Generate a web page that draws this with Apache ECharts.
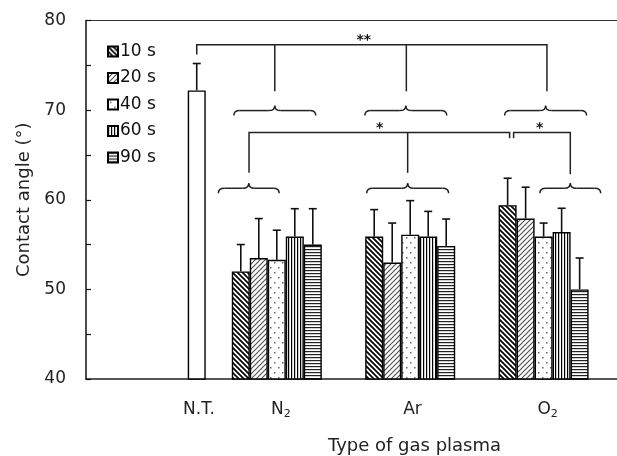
<!DOCTYPE html>
<html><head><meta charset="utf-8">
<script src="https://cdn.jsdelivr.net/npm/echarts@6/dist/echarts.min.js"></script>
<style>html,body{margin:0;padding:0;background:#fff}#c{width:617px;height:456px}</style>
</head><body><div id="c"></div>
<script>
// ---------------- data ----------------
const categories = ['N.T.', 'N2', 'Ar', 'O2'];
const categoryPos = [0.9, 1.5, 2.5, 3.5];          // place of each group on the x scale
const times = ['10 s', '20 s', '40 s', '60 s', '90 s'];
const untreatedMean = [72.2];
const untreatedErr = [3.0];
const mean10 = [52.0, 55.9, 59.4];
const err10  = [3.0, 3.0, 3.0];
const mean20 = [53.5, 53.0, 57.9];
const err20  = [4.4, 4.4, 3.5];
const mean40 = [53.3, 56.1, 55.9];
const err40  = [3.3, 3.8, 1.5];
const mean60 = [55.9, 55.9, 56.4];
const err60  = [3.1, 2.8, 2.65];
const mean90 = [55.0, 54.85, 50.0];
const err90  = [4.0, 3.0, 3.5];
const yTicks = [40, 50, 60, 70, 80];
// significance annotations (x on category scale, y in degrees)
const bracketLines = [
  [[0.9, 76.2], [0.9, 77.3], [3.525, 77.3], [3.525, 72.1]],
  [[1.485, 77.3], [1.485, 72.1]],
  [[2.471, 77.3], [2.471, 72.1]],
  [[1.292, 63.0], [1.292, 67.5], [3.245, 67.5], [3.245, 66.85]],
  [[2.481, 67.5], [2.481, 63.0]],
  [[3.275, 66.85], [3.275, 67.5], [3.7, 67.5], [3.7, 62.84]]
];
const braces = [ // [center, half width, tip y, end y]
  [1.485, 0.307, 70.5, 69.4],
  [2.467, 0.307, 70.5, 69.4],
  [3.515, 0.307, 70.5, 69.4],
  [1.29, 0.228, 61.84, 60.72],
  [2.481, 0.307, 61.84, 60.72],
  [3.70, 0.228, 61.84, 60.72]
];
const starLabels = [['**', 2.152, 77.3], ['*', 2.272, 67.5], ['*', 3.47, 67.5]];

// ---------------- styles ----------------
const BAR_W = 18, CAP = 4;
const FONT = 'DejaVu Sans';
function tile(w, h, draw) {
  const c = document.createElement('canvas'); c.width = w; c.height = h;
  const g = c.getContext('2d'); g.fillStyle = '#fff'; g.fillRect(0, 0, w, h); draw(g, w, h);
  return { image: c, repeat: 'repeat' };
}
function diag(g, w, h, color, lw, back) {
  g.strokeStyle = color; g.lineWidth = lw; g.beginPath();
  for (let k = -1; k <= 1; k++) {
    if (back) { g.moveTo(k * w - 1, -1); g.lineTo(k * w + w + 1, h + 1); }
    else { g.moveTo(k * w - 1, h + 1); g.lineTo(k * w + w + 1, -1); }
  }
  g.stroke();
}
const patterns = [
  tile(5, 5, (g, w, h) => diag(g, w, h, '#000', 1.7, true)),
  tile(5, 5, (g, w, h) => diag(g, w, h, '#555', 1.2, false)),
  tile(8, 10, (g) => { g.fillStyle = '#666'; g.fillRect(2, 2, 1.5, 1.5); g.fillRect(6, 7, 1.5, 1.5); }),
  tile(3, 3, (g) => { g.fillStyle = '#000'; g.fillRect(0, 0, 1.2, 3); }),
  tile(3, 3, (g) => { g.fillStyle = '#222'; g.fillRect(0, 0, 3, 1.2); })
];
const means = [mean10, mean20, mean40, mean60, mean90];
const errs = [err10, err20, err40, err60, err90];
const gasPos = categoryPos.slice(1);

const series = times.map((t, i) => ({
  name: t, type: 'bar', xAxisIndex: 0, yAxisIndex: 0,
  barWidth: BAR_W, barGap: '0%',
  data: gasPos.map((x, j) => [x, means[i][j]]),
  itemStyle: { color: patterns[i], borderColor: '#000', borderWidth: 1.4 },
  emphasis: { disabled: true }, z: 2
}));
series.push({
  name: categories[0], type: 'bar', xAxisIndex: 1, yAxisIndex: 0, barWidth: BAR_W,
  data: [[categoryPos[0], untreatedMean[0]]],
  itemStyle: { color: '#fff', borderColor: '#000', borderWidth: 1.4 }, z: 2
});
// error bars
const errData = [[categoryPos[0], untreatedMean[0], untreatedErr[0], 0]];
times.forEach((t, i) => gasPos.forEach((x, j) => errData.push([x, means[i][j], errs[i][j], i - 2])));
series.push({
  type: 'custom', xAxisIndex: 0, yAxisIndex: 0, data: errData, encode: { x: 0, y: 1 }, z: 3,
  renderItem(params, api) {
    const x = api.value(0), m = api.value(1), e = api.value(2), s = api.value(3);
    const b = api.coord([x, m]), tp = api.coord([x, m + e]);
    const cx = b[0] + s * BAR_W;
    const st = { stroke: '#111', lineWidth: 1.6 };
    return { type: 'group', children: [
      { type: 'line', shape: { x1: cx, y1: b[1], x2: cx, y2: tp[1] }, style: st },
      { type: 'line', shape: { x1: cx - CAP, y1: tp[1], x2: cx + CAP, y2: tp[1] }, style: st }
    ] };
  }
});
// brackets
series.push({
  type: 'custom', xAxisIndex: 0, yAxisIndex: 0, z: 4,
  data: bracketLines.map((l, i) => [l[0][0], l[0][1], i]), encode: { x: 0, y: 1 },
  renderItem(params, api) {
    const pts = bracketLines[api.value(2)].map(p => api.coord(p));
    return { type: 'polyline', shape: { points: pts }, style: { stroke: '#222', lineWidth: 1.5, fill: null } };
  }
});
series.push({
  type: 'custom', xAxisIndex: 0, yAxisIndex: 0, z: 4,
  data: braces.map((b, i) => [b[0], b[2], i]), encode: { x: 0, y: 1 },
  renderItem(params, api) {
    const [c, hw, ty, ey] = braces[api.value(2)];
    const L = api.coord([c - hw, ey]), R = api.coord([c + hw, ey]), T = api.coord([c, ty]);
    const my = (L[1] + T[1]) / 2, r = 6;
    const st = { stroke: '#222', lineWidth: 1.5, fill: null };
    return { type: 'group', children: [
      { type: 'bezierCurve', shape: { x1: L[0], y1: L[1], cpx1: L[0], cpy1: my, x2: L[0] + r, y2: my }, style: st },
      { type: 'line', shape: { x1: L[0] + r, y1: my, x2: T[0] - r, y2: my }, style: st },
      { type: 'bezierCurve', shape: { x1: T[0] - r, y1: my, cpx1: T[0], cpy1: my, x2: T[0], y2: T[1] }, style: st },
      { type: 'bezierCurve', shape: { x1: T[0], y1: T[1], cpx1: T[0], cpy1: my, x2: T[0] + r, y2: my }, style: st },
      { type: 'line', shape: { x1: T[0] + r, y1: my, x2: R[0] - r, y2: my }, style: st },
      { type: 'bezierCurve', shape: { x1: R[0] - r, y1: my, cpx1: R[0], cpy1: my, x2: R[0], y2: R[1] }, style: st }
    ] };
  }
});
series.push({
  type: 'custom', xAxisIndex: 0, yAxisIndex: 0, z: 4,
  data: starLabels.map((s, i) => [s[1], s[2], i]), encode: { x: 0, y: 1 },
  renderItem(params, api) {
    const p = api.coord([api.value(0), api.value(1)]);
    return { type: 'text', x: p[0], y: p[1] - 4, style: { text: starLabels[api.value(2)][0], fill: '#111', font: 'bold 14px ' + FONT, align: 'center', verticalAlign: 'middle' } };
  }
});

function catLabel(v) {
  const i = categoryPos.findIndex(p => Math.abs(p - v) < 1e-6);
  if (i < 0) return '';
  const n = categories[i];
  const m = n.match(/^([A-Z][a-z]?)(\d)$/);
  return m ? '{a|' + m[1] + '}{s|' + m[2] + '}' : '{a|' + n + '}{s| }';
}
const axisText = { fontFamily: FONT, color: '#222' };
const yMin = yTicks[0], yMax = yTicks[yTicks.length - 1];
const option = {
  animation: false,
  backgroundColor: '#fff',
  grid: { left: 86, right: 0, top: 20.5, bottom: 77, containLabel: false, outerBoundsMode: 'none' },
  legend: {
    data: times, orient: 'vertical', left: 102, top: 38, itemWidth: 10, itemHeight: 10, itemGap: 9.5,
    icon: 'rect', selectedMode: false,
    textStyle: { fontFamily: FONT, fontSize: 17, color: '#111', lineHeight: 17, padding: [0, 0, 0, -3] }
  },
  xAxis: [{
    type: 'value', min: 0.07, max: 4.05, position: 'bottom',
    axisLine: { show: true, lineStyle: { color: '#222', width: 1.5 } },
    axisTick: { show: false }, splitLine: { show: false },
    axisLabel: {
      customValues: categoryPos, formatter: catLabel, margin: 20, padding: [0, 0, 0, 8],
      rich: { a: { fontFamily: FONT, fontSize: 17, color: '#222' }, s: { fontFamily: FONT, fontSize: 11, color: '#222', padding: [10, 0, 0, 0] } }
    },
    name: 'Type of gas plasma', nameLocation: 'middle', nameGap: 58,
    nameTextStyle: { ...axisText, fontSize: 18, padding: [0, 0, 0, 126] }
  }, {
    type: 'value', min: 0.07, max: 4.05, position: 'top',
    axisLine: { show: true, lineStyle: { color: '#333', width: 1.2 } },
    axisTick: { show: false }, axisLabel: { show: false }, splitLine: { show: false }
  }],
  yAxis: {
    type: 'value', min: yMin, max: yMax, interval: 10, position: 'left',
    axisLine: { show: true, lineStyle: { color: '#111', width: 1.5 } },
    axisTick: { show: true, inside: true, length: 5, lineStyle: { color: '#111', width: 1.2 } },
    minorTick: { show: true, splitNumber: 2, length: 5, lineStyle: { color: '#111', width: 1.2 } },
    splitLine: { show: false },
    axisLabel: { ...axisText, fontSize: 17, margin: 20 },
    name: 'Contact angle (°)', nameLocation: 'middle', nameGap: 51,
    nameTextStyle: { ...axisText, fontSize: 18 }
  },
  series
};
const chart = echarts.init(document.getElementById('c'), null, { renderer: 'canvas' });
chart.setOption(option);
</script></body></html>
